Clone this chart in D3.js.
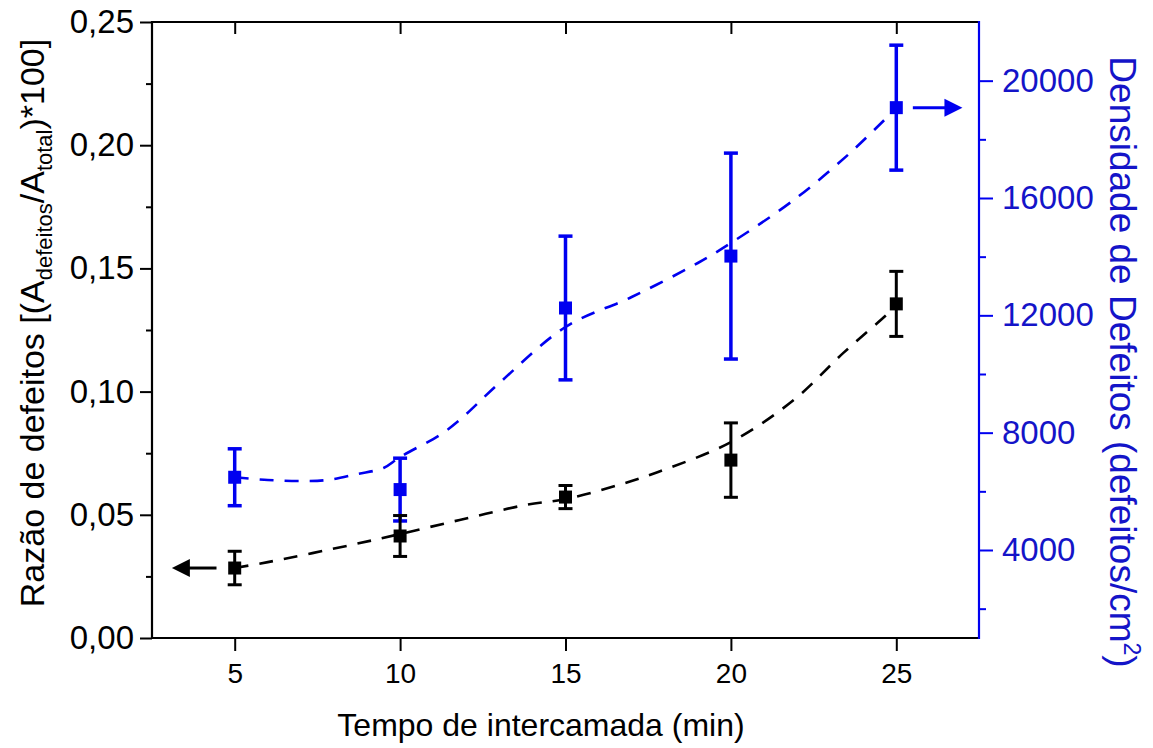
<!DOCTYPE html>
<html>
<head>
<meta charset="utf-8">
<script src="https://cdn.jsdelivr.net/npm/d3@7"></script>
<style>
  html, body { margin: 0; padding: 0; background: #fff; }
  svg { display: block; }
  text { font-family: "Liberation Sans", Arial, sans-serif; }
</style>
</head>
<body>
<svg id="chart" width="1153" height="748"></svg>
<script>
// ---------- data ----------
const intervals = [5, 10, 15, 20, 25];                         // Tempo de intercamada (min)
const defectRatio = [0.0284, 0.0414, 0.0572, 0.0722, 0.1356];  // left axis
const defectRatioErr = [0.0068, 0.0083, 0.0047, 0.0151, 0.0132];
const defectDensity = [6480, 6060, 12250, 14020, 19080];       // right axis (defeitos/cm2)
const defectDensityErr = [970, 1070, 2450, 3510, 2130];

// fitted trend curves
const ratioFitX = [5, 6, 8.5, 10, 11.8, 13.8, 15, 16.6, 17.8, 20, 21.9, 23.4, 24.7, 25];
const ratioFitY = [0.0284, 0.0308, 0.0377, 0.0422, 0.0479, 0.054, 0.0564, 0.0621, 0.0674, 0.0795, 0.0966, 0.1157, 0.1311, 0.135];
const densityFitX = [5, 6, 7, 7.8, 8.7, 9.5, 10, 11.2, 11.8, 13, 15, 17, 19, 20, 21.9, 23.6, 25];
const densityFitY = [6480, 6386, 6352, 6386, 6590, 6795, 7170, 7920, 8432, 9693, 11602, 12625, 13784, 14466, 15931, 17534, 19068];

const xTicks = [5, 10, 15, 20, 25];
const leftTicks = [0, 0.05, 0.10, 0.15, 0.20, 0.25];
const leftMinor = [0.025, 0.075, 0.125, 0.175, 0.225];
const rightTicks = [4000, 8000, 12000, 16000, 20000];
const rightMinor = [2000, 6000, 10000, 14000, 18000];

// ---------- layout ----------
const L = 152, R = 979, T = 22, B = 638;
const BLUE = "#0000f0", BLUE_TXT = "#1414c8";
const svg = d3.select("#chart");

const x = d3.scaleLinear().domain([2.5, 27.5]).range([L, R]);
const yL = d3.scaleLinear().domain([0, 0.25]).range([B, T]);
const yR = d3.scaleLinear().domain([1000, 22000]).range([B, T]);

const fmtL = v => d3.format(".2f")(v).replace(".", ",");

// ---------- axes ----------
const gB = svg.append("g").attr("transform", `translate(0,${B})`)
  .call(d3.axisBottom(x).tickValues(xTicks).tickSize(13).tickPadding(12).tickFormat(d3.format("d")));
gB.selectAll("text").attr("font-size", 28).attr("fill", "#000").attr("dy", "0.71em");
const gT = svg.append("g").attr("transform", `translate(0,${T})`)
  .call(d3.axisBottom(x).tickValues(xTicks).tickSize(12).tickFormat(""));
const gL = svg.append("g").attr("transform", `translate(${L},0)`)
  .call(d3.axisLeft(yL).tickValues(leftTicks).tickSize(12).tickPadding(6).tickFormat(fmtL));
gL.selectAll("text").attr("font-size", 33).attr("fill", "#000");
const gLm = svg.append("g").attr("transform", `translate(${L},0)`)
  .call(d3.axisLeft(yL).tickValues(leftMinor).tickSize(6).tickFormat(""));
const gR = svg.append("g").attr("transform", `translate(${R},0)`)
  .call(d3.axisRight(yR).tickValues(rightTicks).tickSize(14).tickPadding(9).tickFormat(d3.format("d")));
gR.selectAll("text").attr("font-size", 33).attr("fill", BLUE_TXT);
const gRm = svg.append("g").attr("transform", `translate(${R},0)`)
  .call(d3.axisRight(yR).tickValues(rightMinor).tickSize(7).tickFormat(""));

svg.selectAll(".domain").remove();
svg.selectAll("g.tick line").attr("stroke-width", 2).attr("stroke", "#000");
gR.selectAll("line").attr("stroke", BLUE);
gRm.selectAll("line").attr("stroke", BLUE);

// frame lines
svg.append("line").attr("x1", L).attr("x2", R).attr("y1", B).attr("y2", B).attr("stroke", "#000").attr("stroke-width", 2.2);
svg.append("line").attr("x1", L).attr("x2", R).attr("y1", T).attr("y2", T).attr("stroke", "#000").attr("stroke-width", 2.2);
svg.append("line").attr("x1", L).attr("x2", L).attr("y1", T - 1).attr("y2", B + 1).attr("stroke", "#000").attr("stroke-width", 2.2);
svg.append("line").attr("x1", R).attr("x2", R).attr("y1", T - 1).attr("y2", B + 1).attr("stroke", BLUE).attr("stroke-width", 2.2);

// ---------- fitted dashed curves ----------
const lineL = d3.line().x(d => x(d[0])).y(d => yL(d[1])).curve(d3.curveCatmullRom.alpha(0.5));
const lineR = d3.line().x(d => x(d[0])).y(d => yR(d[1])).curve(d3.curveCatmullRom.alpha(0.5));
svg.append("path").attr("d", lineR(d3.zip(densityFitX, densityFitY)))
  .attr("fill", "none").attr("stroke", BLUE).attr("stroke-width", 2.6).attr("stroke-dasharray", "14,11");
svg.append("path").attr("d", lineL(d3.zip(ratioFitX, ratioFitY)))
  .attr("fill", "none").attr("stroke", "#000").attr("stroke-width", 2.6).attr("stroke-dasharray", "14,11");

// ---------- error bars + markers ----------
function series(vals, errs, yScale, color, lw) {
  const g = svg.append("g");
  intervals.forEach((xv, i) => {
    const cx = x(xv), y0 = yScale(vals[i] - errs[i]), y1 = yScale(vals[i] + errs[i]);
    g.append("line").attr("x1", cx).attr("x2", cx).attr("y1", y0).attr("y2", y1).attr("stroke", color).attr("stroke-width", lw);
    [y0, y1].forEach(yy => g.append("line").attr("x1", cx - 7).attr("x2", cx + 7).attr("y1", yy).attr("y2", yy).attr("stroke", color).attr("stroke-width", lw));
    g.append("rect").attr("x", cx - 6.5).attr("y", yScale(vals[i]) - 6.5).attr("width", 13).attr("height", 13).attr("fill", color);
  });
}
series(defectDensity, defectDensityErr, yR, BLUE, 3.5);
series(defectRatio, defectRatioErr, yL, "#000", 3);

// ---------- arrows ----------
function arrow(xTail, xTip, yy, color) {
  const dir = Math.sign(xTip - xTail);
  svg.append("line").attr("x1", xTail).attr("x2", xTip - dir * 16).attr("y1", yy).attr("y2", yy).attr("stroke", color).attr("stroke-width", 3);
  svg.append("path").attr("d", `M${xTip},${yy} L${xTip - dir * 18},${yy - 9} L${xTip - dir * 18},${yy + 9} Z`).attr("fill", color);
}
arrow(x(4.45), x(3.1), yL(defectRatio[0]), "#000");
arrow(x(25.5), x(27.0), yR(defectDensity[4]), BLUE);

// ---------- axis titles ----------
svg.append("text").attr("x", 541).attr("y", 736)
  .attr("text-anchor", "middle").attr("font-size", 32).attr("fill", "#000")
  .text("Tempo de intercamada (min)");

const tl = svg.append("text").attr("transform", `translate(44,323) rotate(-90)`)
  .attr("text-anchor", "middle").attr("font-size", 34).attr("fill", "#000");
tl.append("tspan").text("Razão de defeitos [(A");
tl.append("tspan").attr("font-size", 22).attr("dy", 8).text("defeitos");
tl.append("tspan").attr("dy", -8).text("/A");
tl.append("tspan").attr("font-size", 22).attr("dy", 8).text("total");
tl.append("tspan").attr("dy", -8).text(")*100]");

const tr = svg.append("text").attr("transform", `translate(1110,362) rotate(90)`)
  .attr("text-anchor", "middle").attr("font-size", 37).attr("fill", BLUE_TXT);
tr.append("tspan").text("Densidade de Defeitos (defeitos/cm");
tr.append("tspan").attr("font-size", 23).attr("dy", -14).text("2");
tr.append("tspan").attr("dy", 14).text(")");
</script>
</body>
</html>
